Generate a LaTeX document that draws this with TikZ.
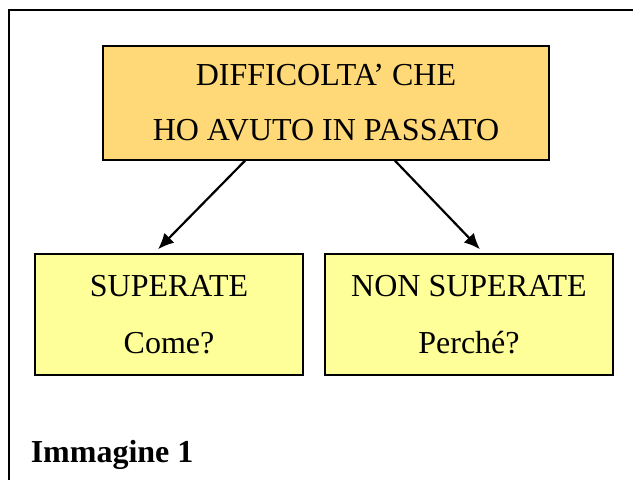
\documentclass[tikz,border=0pt]{standalone}
\usepackage{fontspec}
\setmainfont{Liberation Serif}
\usetikzlibrary{arrows.meta}
\definecolor{boxorange}{HTML}{FFD977}
\definecolor{boxyellow}{HTML}{FFFF99}
\begin{document}
\begin{tikzpicture}[x=1pt,y=1pt,line width=1.5pt]
        \useasboundingbox (0,0) rectangle (633,480);
        % frame
        \draw[line width=2pt] (9,0) -- (9,470) -- (633,470);

        \begin{scope}[every node/.style={draw,line width=1.4pt,align=center,
                        inner sep=0pt,font=\fontsize{32}{55}\selectfont}]
            \node[fill=boxorange,minimum width=446,minimum height=114] (P) at (326,377)
                {DIFFICOLTA’ CHE\\HO AVUTO IN PASSATO};
            \node[fill=boxyellow,minimum width=268,minimum height=121,
                  font=\fontsize{32}{57}\selectfont] (S) at (169,165.5)
                {SUPERATE\\Come?};
            \node[fill=boxyellow,minimum width=288,minimum height=121,
                  font=\fontsize{32}{57}\selectfont] (N) at (469,165.5)
                {NON SUPERATE\\Perché?};
        \end{scope}

        \coordinate (P1) at ([xshift=-81]P.south);
        \coordinate (P2) at ([xshift=69]P.south);
        \coordinate (S1) at ([xshift=-11,yshift=4]S.north);
        \coordinate (N1) at ([xshift=11,yshift=4]N.north);

        \path[line width=2.2pt,-{Latex[length=16pt,width=14pt]}] (P1) edge (S1);
        \path[line width=2.2pt,-{Latex[length=16pt,width=14pt]}] (P2) edge (N1);

        \node[anchor=base west,inner sep=0pt,font=\fontsize{32}{36}\selectfont\bfseries]
            (cap) at (30,17) {Immagine 1};
    \end{tikzpicture}
\end{document}
